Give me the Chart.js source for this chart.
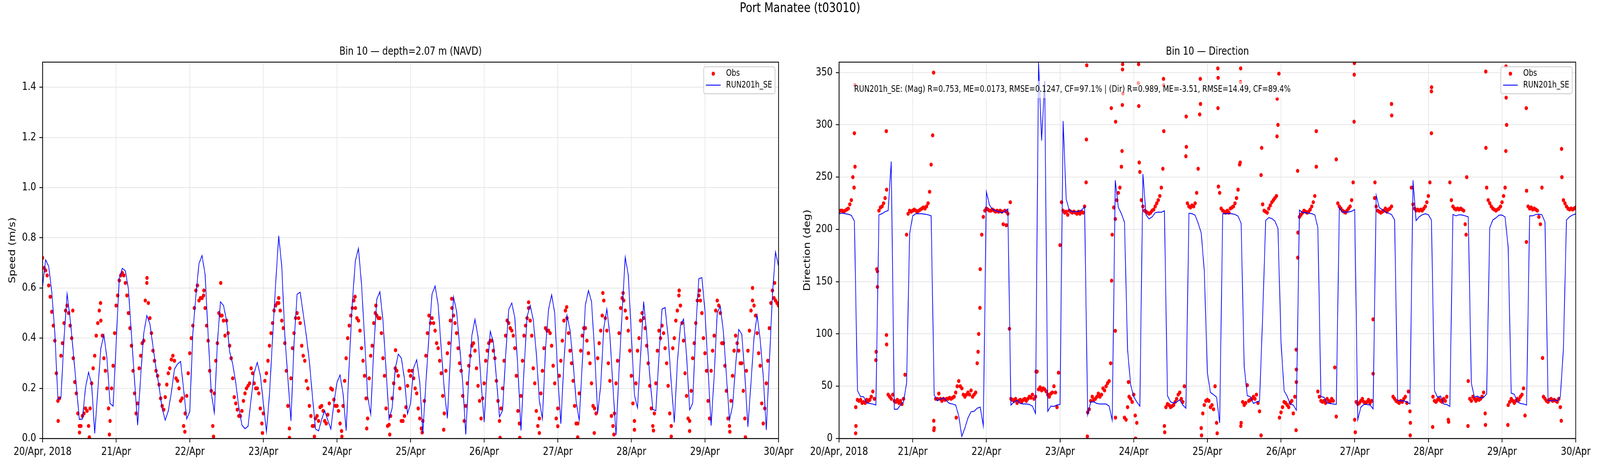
<!DOCTYPE html>
<html>
<head>
<meta charset="utf-8">
<script src="https://cdn.jsdelivr.net/npm/chart.js@4.4.1/dist/chart.umd.min.js"></script>
<style>
html,body{margin:0;padding:0;background:#fff;overflow:hidden;}
#wrap{position:absolute;left:0;top:0;width:5000px;height:1200px;overflow:hidden;background:#fff;transform-origin:0 0;}
.pane{position:absolute;top:0;width:2500px;height:1200px;}
#sup{position:absolute;left:0;top:0;width:5000px;text-align:center;font-family:'DejaVu Sans',sans-serif;font-size:33.3px;line-height:40px;color:#000;z-index:5;}
</style>
</head>
<body>
<div id="wrap">
  <div class="pane" style="left:0"><canvas id="c1" width="2500" height="1200" style="width:2500px;height:1200px"></canvas></div>
  <div class="pane" style="left:2500px"><canvas id="c2" width="2500" height="1200" style="width:2500px;height:1200px"></canvas></div>
  <div id="sup">Port Manatee (t03010)</div>
</div>
<script>
// ---------------- DATA ----------------
const suptitle = 'Port Manatee (t03010)';
const speedTitle = 'Bin 10 \u2014 depth=2.07 m (NAVD)';
const dirTitle = 'Bin 10 \u2014 Direction';
const speedAxisTitle = 'Speed (m/s)';
const dirAxisTitle = 'Direction (deg)';
const obsLabel = 'Obs';
const modelLabel = 'RUN201h_SE';
const statsNote = 'RUN201h_SE: (Mag) R=0.753, ME=0.0173, RMSE=0.1247, CF=97.1% | (Dir) R=0.989, ME=-3.51, RMSE=14.49, CF=89.4%';

// x axis: hours since 20/Apr/2018 00:00
const xTickHours = [0,24,48,72,96,120,144,168,192,216,240];
const xTickLabels = ['20/Apr, 2018','21/Apr','22/Apr','23/Apr','24/Apr','25/Apr','26/Apr','27/Apr','28/Apr','29/Apr','30/Apr'];
const speedTicks = [0,0.2,0.4,0.6,0.8,1.0,1.2,1.4];
const dirTicks = [0,50,100,150,200,250,300,350];

const MODEL_STEP_H = 1;   // model output interval (hours)
const OBS_STEP_H = 0.5;   // obs sampling used here (hours)

// model speed, hourly (h0..h240)
const speedModel = [
0.605,0.712,0.686,0.584,0.42,0.157,0.163,0.40,0.576,0.476,
0.346,0.21,0.076,0.078,0.203,0.264,0.216,0.02,0.19,0.36,
0.413,0.319,0.14,0.129,0.38,0.638,0.678,0.668,0.595,0.41,
0.23,0.053,0.25,0.42,0.49,0.457,0.367,0.28,0.205,0.119,
0.073,0.11,0.184,0.276,0.297,0.307,0.195,0.078,0.108,0.42,
0.57,0.697,0.729,0.654,0.41,0.184,0.103,0.38,0.545,0.53,
0.47,0.346,0.297,0.222,0.124,0.054,0.039,0.049,0.157,0.262,
0.303,0.253,0.14,0.026,0.178,0.40,0.616,0.808,0.686,0.41,
0.238,0.07,0.38,0.575,0.583,0.497,0.41,0.308,0.168,0.038,
0.03,0.076,0.111,0.073,0.038,0.14,0.224,0.253,0.178,0.031,
0.30,0.54,0.708,0.758,0.616,0.40,0.168,0.096,0.357,0.556,
0.585,0.47,0.276,0.077,0.122,0.278,0.336,0.32,0.238,0.098,
0.14,0.281,0.314,0.224,0.022,0.222,0.41,0.576,0.608,0.532,
0.357,0.195,0.08,0.33,0.564,0.508,0.368,0.222,0.016,0.249,
0.411,0.475,0.405,0.222,0.065,0.276,0.427,0.384,0.238,0.086,
0.112,0.33,0.514,0.54,0.481,0.276,0.032,0.276,0.486,0.531,
0.473,0.341,0.151,0.078,0.357,0.515,0.573,0.5,0.249,0.059,
0.303,0.491,0.432,0.303,0.146,0.073,0.303,0.532,0.59,0.546,
0.35,0.1,0.211,0.44,0.516,0.411,0.205,0.014,0.276,0.508,
0.723,0.651,0.411,0.173,0.122,0.33,0.546,0.416,0.249,0.116,
0.111,0.33,0.516,0.522,0.403,0.222,0.064,0.303,0.449,0.476,
0.33,0.114,0.141,0.438,0.637,0.641,0.508,0.276,0.051,0.249,
0.502,0.526,0.427,0.249,0.073,0.13,0.292,0.435,0.416,0.254,
0.046,0.222,0.403,0.492,0.395,0.249,0.034,0.303,0.573,0.743,
0.686];

// observed speed, every 30 min (k0..k480)
const speedObs = [
0.72,0.68,0.67,0.65,0.61,0.565,0.505,0.45,0.39,0.26,
0.15,0.16,0.33,0.38,0.46,0.51,0.53,0.5,0.45,0.4,
0.32,0.225,0.18,0.1,0.05,0.05,0.09,0.1,0.12,0.11,
0.05,0.12,0.22,0.28,0.33,0.41,0.46,0.51,0.47,0.41,
0.32,0.27,0.2,0.12,0.07,0.2,0.29,0.42,0.53,0.57,
0.63,0.65,0.66,0.65,0.62,0.57,0.5,0.44,0.37,0.27,
0.18,0.1,0.14,0.28,0.33,0.38,0.39,0.55,0.62,0.54,
0.48,0.42,0.35,0.31,0.27,0.25,0.215,0.16,0.13,0.115,
0.165,0.215,0.26,0.28,0.315,0.33,0.31,0.24,0.23,0.2,
0.15,0.16,0.05,0.1,0.17,0.26,0.34,0.4,0.45,0.52,
0.59,0.61,0.55,0.56,0.56,0.57,0.52,0.45,0.39,0.27,
0.19,0.05,0.18,0.31,0.38,0.5,0.49,0.49,0.47,0.41,
0.47,0.42,0.37,0.32,0.24,0.165,0.14,0.115,0.09,0.09,
0.11,0.15,0.18,0.2,0.21,0.22,0.28,0.26,0.22,0.2,
0.2,0.18,0.12,0.06,0.1,0.23,0.26,0.31,0.37,0.42,
0.46,0.51,0.53,0.54,0.54,0.51,0.47,0.44,0.38,0.27,
0.13,0.04,0.24,0.36,0.42,0.48,0.5,0.48,0.46,0.37,
0.33,0.31,0.23,0.2,0.13,0.09,0.05,0.05,0.08,0.09,
0.07,0.125,0.13,0.11,0.07,0.06,0.095,0.14,0.2,0.195,
0.155,0.13,0.13,0.11,0.06,0.03,0.13,0.23,0.32,0.4,
0.45,0.49,0.52,0.55,0.52,0.48,0.47,0.43,0.36,0.31,
0.25,0.16,0.08,0.24,0.33,0.37,0.46,0.5,0.49,0.48,
0.48,0.42,0.32,0.25,0.12,0.05,0.055,0.09,0.16,0.22,
0.28,0.27,0.25,0.2,0.07,0.07,0.09,0.125,0.21,0.27,
0.25,0.27,0.24,0.2,0.18,0.12,0.08,0.04,0.07,0.15,
0.33,0.42,0.49,0.46,0.48,0.46,0.43,0.38,0.36,0.31,
0.26,0.17,0.1,0.27,0.34,0.38,0.47,0.52,0.49,0.46,
0.42,0.36,0.3,0.27,0.17,0.07,0.13,0.22,0.29,0.33,
0.37,0.38,0.35,0.28,0.21,0.15,0.08,0.16,0.22,0.31,
0.35,0.38,0.39,0.39,0.35,0.32,0.23,0.15,0.07,0.12,
0.2,0.31,0.41,0.47,0.46,0.44,0.43,0.41,0.36,0.25,
0.11,0.06,0.17,0.31,0.41,0.45,0.48,0.52,0.47,0.41,
0.28,0.22,0.11,0.05,0.08,0.18,0.27,0.36,0.44,0.43,
0.43,0.42,0.37,0.29,0.22,0.08,0.12,0.25,0.31,0.39,
0.47,0.51,0.48,0.42,0.35,0.3,0.23,0.13,0.06,0.06,
0.18,0.35,0.41,0.44,0.44,0.39,0.34,0.3,0.22,0.13,
0.12,0.1,0.32,0.38,0.43,0.49,0.55,0.48,0.43,0.3,
0.23,0.09,0.05,0.1,0.22,0.31,0.42,0.52,0.56,0.55,
0.51,0.48,0.43,0.35,0.25,0.14,0.07,0.22,0.35,0.4,
0.47,0.5,0.48,0.44,0.37,0.3,0.21,0.12,0.05,0.1,
0.22,0.35,0.43,0.4,0.45,0.42,0.36,0.3,0.21,0.1,
0.05,0.36,0.4,0.47,0.51,0.57,0.53,0.46,0.39,0.26,
0.17,0.08,0.07,0.19,0.32,0.38,0.46,0.55,0.57,0.55,
0.5,0.4,0.34,0.27,0.15,0.08,0.27,0.35,0.41,0.51,
0.55,0.53,0.5,0.38,0.38,0.29,0.19,0.08,0.05,0.15,
0.25,0.35,0.41,0.38,0.35,0.3,0.3,0.19,0.08,0.27,
0.35,0.43,0.51,0.55,0.53,0.49,0.42,0.34,0.29,0.14,
0.06,0.12,0.22,0.31,0.44,0.54,0.59,0.56,0.55,0.54,0.53];

// extra observed speed samples (hours, value)
const speedObsExtraH = [9.85,58.1,34.05,18.9,52.6,15.25,21.8,55.75,46.4,12.05,5.1,
80.5,88.65,97.6,113.2,71.7,115.1,101.9,77.0,108.7,105.7,
149.2,155.6,162,174.5,168,123.8,158.5,133.4,170.9,130.8,179.9,
205,229.2,186.3,193,199.2,211,224.1,207.6,231.5,238.7,182.7,189.3,214.2];
const speedObsExtraV = [0.51,0.62,0.64,0.54,0.59,0.005,0.016,0.008,0.027,0.024,0.07,
0.003,0.008,0.008,0.016,0.022,0.352,0.565,0.56,0.53,0.04,
0.003,0.003,0.022,0.005,0.049,0.024,0.543,0.557,0.524,0.035,0.022,
0.008,0.005,0.016,0.035,0.032,0.03,0.027,0.59,0.6,0.62,0.58,0.58,0.59];

// model direction, hourly (h0..h240)
const dirModel = [
215,215.5,215,214.5,213.5,208,46,40,40,34,
33.5,33,32,214,215,217,218,265,28,28,
32,35,53,196,213,215,215,215,214.5,214,
213,41.6,36,37.6,39,36,33.5,33,32,21.5,
2,10,19.6,25.6,26,29,30,12,236,223.5,
219,218,217,216,217,219.6,32,35,36.5,33.5,
33,33,32.6,31,24,359.5,285,342,26,31,
30.7,32,32.6,303.7,229,218.5,217,217,217,218.5,
221.5,22.6,35,35,33.5,33,33,33,31,17.5,
247,221,215,206.7,85,51.5,40,35,31,253,
214,210,212,216,216.6,216.4,217.8,41,35,34,
35,37,32,29,215.5,215,213.6,206,196.5,160,
63,44,42,39.5,15,215,215,215.2,215,214.3,
212.7,205.8,68.8,41,40,33.5,35,35.8,116,208.5,
211.3,210.4,208,201,92,45.7,40.4,33,32,27,
218.5,216,216,215.5,215,214,201.6,40,39.5,34,
33.5,33,32.6,220.8,216.6,216.6,216.6,217.3,219,18,
30,32.6,32.6,32,28.4,232.8,220.8,219,216.6,215.5,
214.3,209,36.5,36,36,35,33,247,208.5,212,
214,215,214,209,45.7,39.5,40.6,33,32.6,30.7,
214.3,213,214,213.8,213,212,53,39.5,40.6,38.8,
39.3,42.7,201.6,209,211,213.6,213.8,211.8,183,43.4,
42.3,35,33.5,33,32,213,213,214.3,214.5,214,
207,36.5,36,37,36,40,86,209,212,213.8,
214.8];

// observed direction, every 30 min (k0..k480)
const dirObs = [
217,218,218,217,218,219,220,224,228,250,
292,12,37,36,37,34,35,34,37,36,
37,40,45,38,75,160,218,221,222,225,
230,90,42,40,38,42,36,35,37,34,
36,33,38,61,195,215,218,217,218,219,
218,217,218,219,220,221,220,222,225,236,
262,290,10,38,38,43,38,36,38,37,
38,38,39,38,39,40,44,50,55,50,
48,42,40,42,44,42,46,40,42,44,
72,100,162,195,212,218,220,219,218,218,
219,218,217,218,217,218,217,205,218,217,
215,105,38,37,36,38,34,36,37,35,
37,38,36,38,40,39,42,38,40,64,
47,49,46,48,47,45,42,40,43,44,
50,44,30,63,185,226,218,216,217,214,
218,217,216,217,216,215,217,215,217,216,
222,245,25,28,36,40,37,38,40,43,
40,42,48,46,50,53,55,72,195,221,
210,228,235,240,260,330,20,18,30,40,
38,35,42,22,15,340,255,228,222,218,
217,216,215,216,218,219,222,225,228,232,
240,258,12,30,33,32,30,31,32,35,
38,42,44,38,35,50,270,225,222,221,
223,222,225,235,258,310,10,24,32,36,
37,36,30,32,28,50,15,345,235,220,
218,217,216,218,216,220,221,222,225,230,
238,262,15,35,32,34,51,36,37,38,
40,38,42,34,26,252,224,218,217,216,
220,223,226,228,230,232,300,20,25,30,
35,34,32,30,34,36,24,40,66,197,
212,214,216,218,217,216,217,219,222,226,
232,260,45,40,36,35,36,34,38,36,
35,38,36,68,267,225,222,220,218,217,
216,218,220,222,228,245,18,35,33,34,
36,38,35,34,35,37,34,36,62,230,
222,218,217,216,217,218,220,217,219,220,
222,40,38,36,35,34,36,35,38,40,
34,45,26,240,224,220,218,219,218,219,
218,220,222,226,232,245,292,40,36,35,
37,38,36,35,38,36,40,18,245,228,
222,220,219,220,219,220,219,218,205,250,
55,38,36,40,38,36,38,37,38,40,
44,24,240,228,225,222,220,219,218,219,
220,222,226,232,240,300,32,35,38,36,
34,36,38,37,40,42,48,22,237,222,
220,221,219,220,219,218,212,205,240,40,
38,36,35,37,38,36,37,36,35,38,
30,250,228,225,222,220,219,220,219,220,221];

// extra observed direction samples (hours, value)
const dirObsExtraH = [5.17,5.2,4.9,5.4,5.45,12.5,12.3,12.1,15.4,15.45,15.5,30.8,30.9,30.85,38.2,45.9,45.3,54.5,55.8,
64.2,80.7,80.6,80.9,88.7,88.8,90.0,90.05,90.1,92.4,92.35,92.3,92.2,94.3,96.6,97.6,97.65,97.8,105.7,105.75,105.8,106.1,113.1,113.15,117.7,117.75,118.1,
123.4,123.45,123.2,123.6,130.8,130.85,130.7,130.9,137.7,137.5,142.7,142.75,143.3,148.9,148.95,149.0,149.4,149.45,155.5,162.0,167.8,167.85,167.9,168.2,174.0,174.6,180.0,180.05,
186.1,186.15,193.0,193.05,193.4,198.6,204.3,204.9,210.7,210.75,210.6,217.3,217.35,217.25,217.9,223.9,223.95,229.2,235.4,235.3];
const dirObsExtraV = [338,260,240,5,30,145,162,83,294,99,238,350,8,17,20,125,83,204,226,
64,357,286,2,316,151,103,20,303,358,353,319,275,54,0,358,318,264,344,338,294,6,308,279,344,320,3,
354,316,5,241,341,354,264,12,278,3,289,325,349,8,85,54,256,173,294,21,303,348,359,6,114,245,320,309,
3,15,332,336,11,16,195,12,351,278,13,356,326,275,13,316,188,77,277,17];

// ---------------- FIT FIGURE TO WINDOW ----------------
(function fit(){
  const W = window.innerWidth || 5000, H = window.innerHeight || 1200;
  const sx = W / 5000, sy = H / 1200;
  if (Math.abs(sx - 1) > 0.001 || Math.abs(sy - 1) > 0.001) {
    document.getElementById('wrap').style.transform = 'scale(' + sx + ',' + sy + ')';
  }
})();

// ---------------- CHART ----------------
Chart.defaults.font.family = "'DejaVu Sans', sans-serif";
Chart.defaults.color = '#000';

const FS = 27.8;       // 10pt at 200 dpi
const FS_SMALL = 22.2; // 8pt at 200 dpi

function series(step, vals){ return vals.map((v,i)=>({x:i*step, y:v})); }
function pairs(hs, vs){ return hs.map((h,i)=>({x:h, y:vs[i]})); }

const decor = {
  id: 'decor',
  afterDatasetsDraw(chart, args, opts){
    const ctx = chart.ctx, a = chart.chartArea;
    ctx.save();
    ctx.strokeStyle = '#000';
    ctx.lineWidth = 2.2;
    ctx.strokeRect(a.left, a.top, a.right - a.left, a.bottom - a.top);

    if (opts.note){
      ctx.font = FS_SMALL + "px 'DejaVu Sans'";
      const w = ctx.measureText(opts.note).width;
      const x = a.left + 47, y = a.top + 70;
      ctx.fillStyle = 'rgba(255,255,255,0.6)';
      ctx.fillRect(x - 8, y - 22, w + 16, 44);
      ctx.fillStyle = '#000';
      ctx.textAlign = 'left';
      ctx.textBaseline = 'middle';
      ctx.fillText(opts.note, x, y);
    }

    const bw = 223, bh = 69;
    const bx = a.right - 11 - bw, by = a.top + 12;
    ctx.beginPath();
    if (ctx.roundRect) ctx.roundRect(bx, by, bw, bh, 6); else ctx.rect(bx, by, bw, bh);
    ctx.fillStyle = 'rgba(255,255,255,0.8)';
    ctx.fill();
    ctx.strokeStyle = '#cccccc';
    ctx.lineWidth = 2.2;
    ctx.stroke();
    ctx.font = FS_SMALL + "px 'DejaVu Sans'";
    ctx.textAlign = 'left';
    ctx.textBaseline = 'middle';
    chart.data.datasets.forEach((ds, i) => {
      const cy = by + 17.5 + i * 29.5;
      if (ds.showLine){
        ctx.strokeStyle = ds.borderColor;
        ctx.lineWidth = ds.borderWidth;
        ctx.beginPath();
        ctx.moveTo(bx + 7, cy); ctx.lineTo(bx + 53, cy);
        ctx.stroke();
      } else {
        ctx.fillStyle = ds.backgroundColor;
        ctx.beginPath();
        ctx.arc(bx + 30, cy, ds.pointRadius, 0, Math.PI * 2);
        ctx.fill();
      }
      ctx.fillStyle = '#000';
      ctx.fillText(ds.label, bx + 70, cy);
    });
    ctx.restore();
  }
};

function makeChart(canvasId, cfg){
  const gridOpts = {color:'#e6e6e6', lineWidth:2, tickColor:'#000', tickLength:10, tickWidth:2.2, drawTicks:true};
  const borderOpts = {display:true, color:'#000', width:2.2};
  return new Chart(document.getElementById(canvasId), {
    type: 'scatter',
    data: {
      datasets: [
        {label: obsLabel, data: cfg.obs, showLine:false, pointRadius:5.2, pointHoverRadius:5.2,
         backgroundColor:'#ff0000', borderWidth:0, pointBorderWidth:0, order:2, clip:0},
        {label: modelLabel, data: cfg.model, showLine:true, pointRadius:0, pointHoverRadius:0,
         borderColor:'#0000ff', backgroundColor:'#0000ff', borderWidth:2.2, tension:0, order:1, clip:0}
      ]
    },
    options: {
      responsive:false, animation:false, devicePixelRatio:1, events:[],
      layout: {padding:{left:0, right:cfg.padRight, top:0, bottom:0}},
      plugins: {
        legend:{display:false}, tooltip:{enabled:false},
        title:{display:true, text:cfg.title, color:'#000', fullSize:false,
               font:{size:FS, weight:'normal', lineHeight:1.2}, padding:{top:116.3, bottom:9.3}},
        decor:{note: cfg.note || null}
      },
      scales: {
        x: {
          type:'linear', min:0, max:240,
          afterBuildTicks: s => { s.ticks = xTickHours.map(v => ({value:v})); },
          afterFit: s => { s.height = 78; },
          ticks:{autoSkip:false, maxRotation:0, minRotation:0, padding:8, color:'#000',
                 font:{size:FS}, callback:(v, i) => xTickLabels[i]},
          grid: gridOpts, border: borderOpts
        },
        y: {
          type:'linear', min:cfg.yMin, max:cfg.yMax,
          afterBuildTicks: s => { s.ticks = cfg.yTicks.map(v => ({value:v})); },
          afterFit: s => { s.width = cfg.yWidth; },
          ticks:{padding:10, color:'#000', font:{size:FS}, callback: cfg.yFmt},
          grid: gridOpts, border: borderOpts,
          title:{display:true, text:cfg.yTitle, color:'#000', font:{size:FS, lineHeight:1.2},
                 padding:{top:cfg.yTitlePad, bottom:0}}
        }
      }
    },
    plugins:[decor]
  });
}

makeChart('c1', {
  title: speedTitle, yTitle: speedAxisTitle,
  yMin:0, yMax:1.5, yTicks: speedTicks, yFmt: v => Number(v).toFixed(1),
  yWidth:133, padRight:67, yTitlePad:23.3,
  obs: series(OBS_STEP_H, speedObs).concat(pairs(speedObsExtraH, speedObsExtraV)),
  model: series(MODEL_STEP_H, speedModel)
});

makeChart('c2', {
  title: dirTitle, yTitle: dirAxisTitle,
  yMin:0, yMax:360, yTicks: dirTicks, yFmt: v => String(v),
  yWidth:122, padRight:76, yTitlePad:7.3, note: statsNote,
  obs: series(OBS_STEP_H, dirObs).concat(pairs(dirObsExtraH, dirObsExtraV)),
  model: series(MODEL_STEP_H, dirModel)
});
document.getElementById('sup').textContent = suptitle;
</script>
</body>
</html>
